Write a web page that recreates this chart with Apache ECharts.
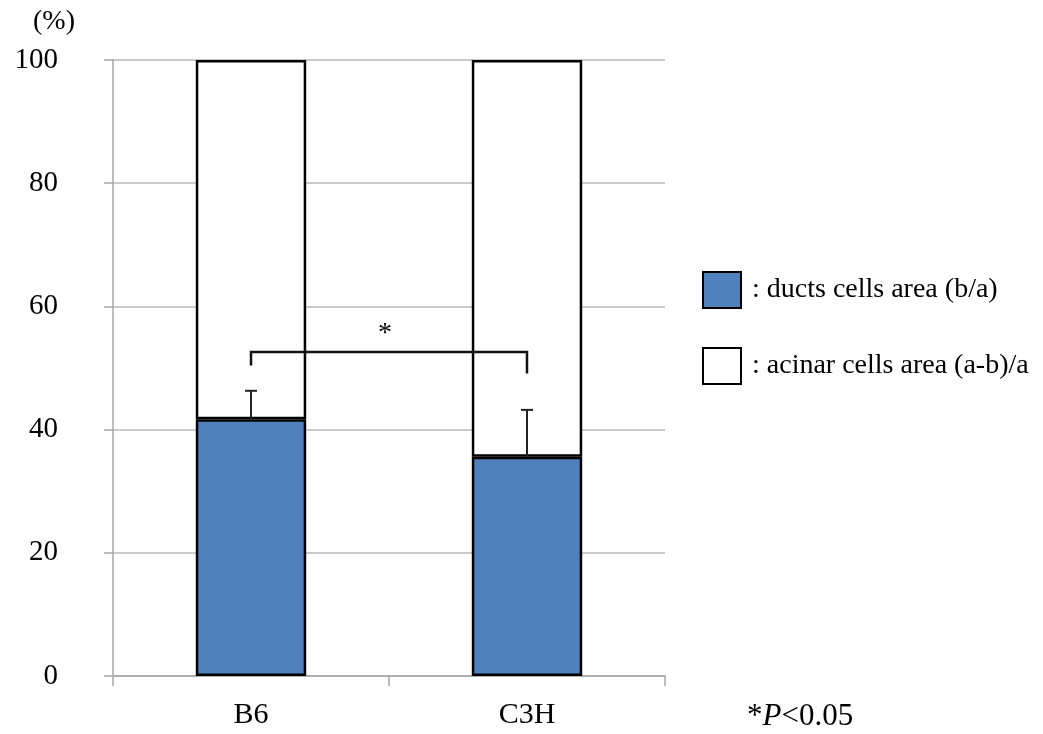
<!DOCTYPE html>
<html>
<head>
<meta charset="utf-8">
<script src="https://cdn.jsdelivr.net/npm/echarts@6/dist/echarts.min.js"></script>
<style>html,body{margin:0;padding:0;background:#fff;}#c{width:1043px;height:734px;}</style>
</head>
<body>
<div id="c"></div>
<script>
var categories = ['B6', 'C3H'];
var ductsValues = [41.7, 35.6];
var acinarValues = [58.3, 64.4];
var errorTops = [46.3, 43.2];
var yTicks = [0, 20, 40, 60, 80, 100];
var seriesNames = [': ducts cells area (b/a)', ': acinar cells area (a-b)/a'];
var bracket = { left: 0, right: 1, top: 52.6, leftEnd: 50.4, rightEnd: 49.1, label: '*' };

var FONT = '"Liberation Serif", "Times New Roman", serif';
var chart = echarts.init(document.getElementById('c'), null, { renderer: 'canvas' });

var errData = categories.map(function (c, i) { return [i, ductsValues[i], errorTops[i]]; });

var option = {
  animation: false,
  backgroundColor: '#fff',
  grid: { left: 113, right: 378, top: 60, bottom: 58 },
  legend: {
    data: seriesNames,
    orient: 'vertical',
    left: 702, top: 271, padding: 0,
    itemWidth: 38, itemHeight: 36, itemGap: 38,
    icon: 'rect',
    textStyle: { fontFamily: FONT, fontSize: 28, color: '#000', padding: [0, 0, 0, 6] },
    selectedMode: false
  },
  xAxis: {
    type: 'category',
    data: categories,
    axisLine: { lineStyle: { color: '#a6a6a6', width: 1.5 } },
    axisTick: { show: true, length: 10, lineStyle: { color: '#a6a6a6', width: 1.5 } },
    axisLabel: { fontFamily: FONT, fontSize: 30, color: '#000', margin: 24 }
  },
  yAxis: {
    type: 'value', min: 0, max: 100, interval: 20,
    axisLine: { show: true, lineStyle: { color: '#a6a6a6', width: 1.5 } },
    axisTick: { show: true, length: 9, lineStyle: { color: '#a6a6a6', width: 1.5 } },
    splitLine: { lineStyle: { color: '#b8b8b8', width: 1.5 } },
    axisLabel: { fontFamily: FONT, fontSize: 29, color: '#000', margin: 55,
      formatter: function (v) { return yTicks.indexOf(v) >= 0 ? String(v) : ''; } }
  },
  graphic: [
    { type: 'text', left: 33, top: 8, style: { text: '(%)', fontFamily: FONT, fontSize: 28, fill: '#000' } },
    { type: 'text', left: 747, top: 701, style: {
        text: '{a|*}{p|P}{a|<0.05}',
        rich: {
          a: { fontFamily: FONT, fontSize: 31, fill: '#000' },
          p: { fontFamily: FONT, fontSize: 31, fontStyle: 'italic', fill: '#000' }
        } } }
  ],
  series: [
    {
      name: seriesNames[0], type: 'bar', stack: 's', barWidth: '40%', data: ductsValues,
      itemStyle: { color: '#4f81bd', borderColor: '#000', borderWidth: 2.5 }, z: 3
    },
    {
      name: seriesNames[1], type: 'bar', stack: 's', barWidth: '40%', data: acinarValues,
      itemStyle: { color: '#ffffff', borderColor: '#000', borderWidth: 2.5 }, z: 2
    },
    {
      type: 'custom', data: errData, z: 5,
      renderItem: function (params, api) {
        var base = api.coord([api.value(0), api.value(1)]);
        var top = api.coord([api.value(0), api.value(2)]);
        var hw = 6;
        return {
          type: 'group', children: [
            { type: 'line', shape: { x1: base[0], y1: base[1], x2: top[0], y2: top[1] }, style: { stroke: '#222', lineWidth: 2 } },
            { type: 'line', shape: { x1: top[0] - hw, y1: top[1], x2: top[0] + hw, y2: top[1] }, style: { stroke: '#222', lineWidth: 2 } }
          ]
        };
      }
    },
    {
      type: 'custom', data: [[bracket.left, bracket.right, bracket.top, bracket.leftEnd, bracket.rightEnd]], z: 6,
      renderItem: function (params, api) {
        var l = api.coord([api.value(0), api.value(2)]);
        var r = api.coord([api.value(1), api.value(2)]);
        var le = api.coord([api.value(0), api.value(3)]);
        var re = api.coord([api.value(1), api.value(4)]);
        return {
          type: 'group', children: [
            { type: 'polyline', shape: { points: [[le[0], le[1]], [l[0], l[1]], [r[0], r[1]], [re[0], re[1]]] }, style: { stroke: '#111', lineWidth: 2.5, fill: null } },
            { type: 'text', style: { text: bracket.label, x: (l[0] + r[0]) / 2 - 4, y: l[1] - 4, align: 'center', verticalAlign: 'bottom', fontFamily: FONT, fontSize: 28, fill: '#000' } }
          ]
        };
      }
    }
  ]
};
chart.setOption(option);
</script>
</body>
</html>
